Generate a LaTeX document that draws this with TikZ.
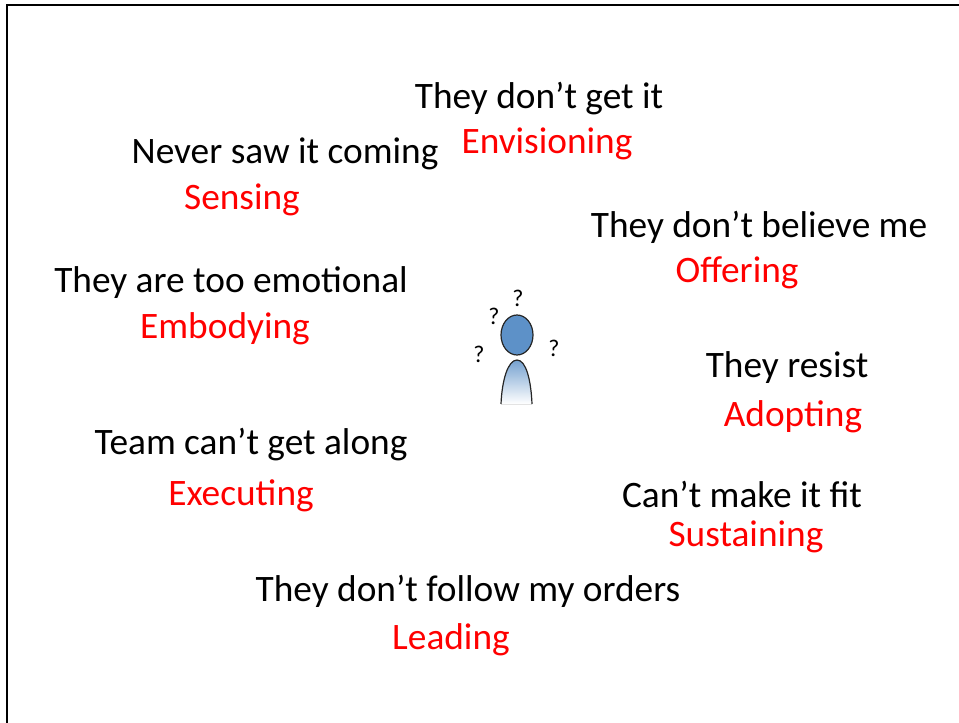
\documentclass[tikz,border=0pt]{standalone}
\usepackage{fontspec}
\setmainfont{Carlito}
\usepackage{xcolor}
\usetikzlibrary{positioning}
\definecolor{practicered}{RGB}{255,0,0}
\definecolor{headblue}{RGB}{93,145,200}
\begin{document}
\begin{tikzpicture}[
    x=0.75pt, y=-0.75pt,
    phrase/.style={font=\fontsize{28}{32}\selectfont, inner sep=0pt, text height=19.5pt, text depth=6pt, text=black},
    practice/.style={phrase, text=practicered},
    query/.style={font=\fontsize{18}{20}\selectfont, inner sep=0pt, text=black},
    outline/.style={draw=black!85, line width=0.9pt}
]
    % Page size and frame
    \useasboundingbox (0,0) rectangle (959,723);
    \draw[black, line width=1.5pt] (7,723) -- (7,5) -- (959,5);

    % Left column
    \node[phrase] (coming) at (285,155) {Never saw it coming};
    \node[practice, below=8.25pt of coming, xshift=-32.25pt] (sensing) {Sensing};
    \node[phrase] (emotional) at (231,284) {They are too emotional};
    \node[practice, below=8.25pt of emotional, xshift=-4.5pt] (embodying) {Embodying};
    \node[phrase] (along) at (251,445) {Team can’t get along};
    \node[practice, below=12.75pt of along, xshift=-7.5pt] (executing) {Executing};

    % Top and bottom
    \node[phrase] (getit) at (539,100) {They don’t get it};
    \node[practice, below=7.75pt of getit, xshift=6pt] (envisioning) {Envisioning};
    \node[phrase] (orders) at (468,592) {They don’t follow my orders};
    \node[practice, below=10.5pt of orders, xshift=-12.75pt] (leading) {Leading};

    % Right column
    \node[phrase] (believe) at (759,229) {They don’t believe me};
    \node[practice, below=7.5pt of believe, xshift=-16.5pt] (offering) {Offering};
    \node[phrase] (resist) at (787,368) {They resist};
    \node[practice, below=11.25pt of resist, xshift=4.5pt] (adopting) {Adopting};
    \node[phrase] (fit) at (742,498) {Can’t make it fit};
    \node[practice, below=3.75pt of fit, xshift=3pt] (sustaining) {Sustaining};

    % Person
    \fill[top color=headblue!85, bottom color=white]
        (501,404) .. controls (502,380) and (508,360) .. (517,360)
        .. controls (526,360) and (531,380) .. (532,404) -- cycle;
    \draw[outline] (501,404) .. controls (502,380) and (508,360) .. (517,360)
        .. controls (526,360) and (531,380) .. (532,404);
    \draw[outline, fill=headblue] (517,335) ellipse (16 and 20);

    % Question marks
    \node[query] (q1) at (518,298) {?};
    \node[query] (q2) at (494,316) {?};
    \node[query] (q3) at (479,354) {?};
    \node[query] (q4) at (554,348) {?};
\end{tikzpicture}
\end{document}
